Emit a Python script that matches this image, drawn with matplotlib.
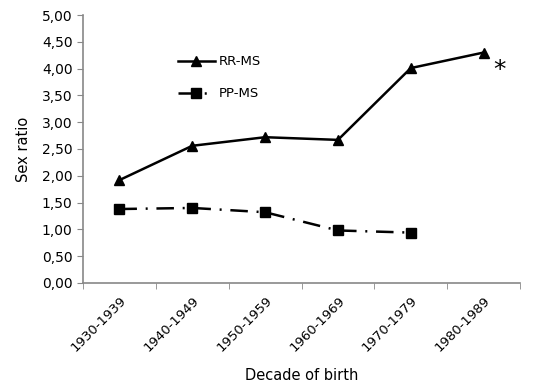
import matplotlib
matplotlib.use("Agg")
import matplotlib.pyplot as plt
import numpy as np
from matplotlib.ticker import FixedLocator, FuncFormatter

categories = ["1930-1939", "1940-1949", "1950-1959", "1960-1969", "1970-1979", "1980-1989"]
rr_ms = [1.92, 2.56, 2.72, 2.67, 4.01, 4.30]
pp_ms = [1.38, 1.40, 1.32, 0.98, 0.94]
yticks = [0, 0.5, 1, 1.5, 2, 2.5, 3, 3.5, 4, 4.5, 5]

plt.rcParams['font.family'] = ['DejaVu Sans']
fig = plt.figure(figsize=(5.44, 3.9), dpi=100)
ax = fig.add_axes([0.1526, 0.2744, 0.8034, 0.6871])

x = np.arange(len(categories))
ax.plot(x, rr_ms, color='black', lw=1.8, marker='^', ms=7, label='RR-MS')
ax.plot(x[:len(pp_ms)], pp_ms, color='black', lw=1.8, marker='s', ms=7.5,
        dashes=(7, 3.5, 0.8, 3.5), label='PP-MS')

ax.text(5.22, 3.98, '*', fontsize=18, ha='center', va='center')

ax.set_xlim(-0.5, 5.5)
ax.set_ylim(0, 5)
ax.set_yticks(yticks)
ax.yaxis.set_major_formatter(FuncFormatter(lambda v, p: f"{v:.2f}".replace('.', ',')))
ax.set_xticks(x)
ax.set_xticklabels(categories, rotation=45, ha='right', rotation_mode='anchor')
ax.xaxis.set_minor_locator(FixedLocator(np.arange(-0.5, 6.0, 1.0)))
ax.tick_params(axis='x', which='major', length=0, pad=8, labelsize=9.5)
ax.tick_params(axis='x', which='minor', length=4, color='#888888', direction='out')
ax.tick_params(axis='y', length=4, color='#888888', direction='out', labelsize=10)

for s in ['top', 'right']:
    ax.spines[s].set_visible(False)
for s in ['left', 'bottom']:
    ax.spines[s].set_color('#888888')
    ax.spines[s].set_linewidth(1.2)

ax.set_ylabel('Sex ratio', fontsize=10.5, labelpad=8)
ax.set_xlabel('Decade of birth', fontsize=10.5, labelpad=10)

leg = ax.legend(loc='upper left', bbox_to_anchor=(0.217, 0.85), frameon=False,
                handlelength=2.8, fontsize=9.5, labelspacing=1.45, handletextpad=0.3,
                borderpad=0, borderaxespad=0)

fig.savefig('out.png', dpi=100)
